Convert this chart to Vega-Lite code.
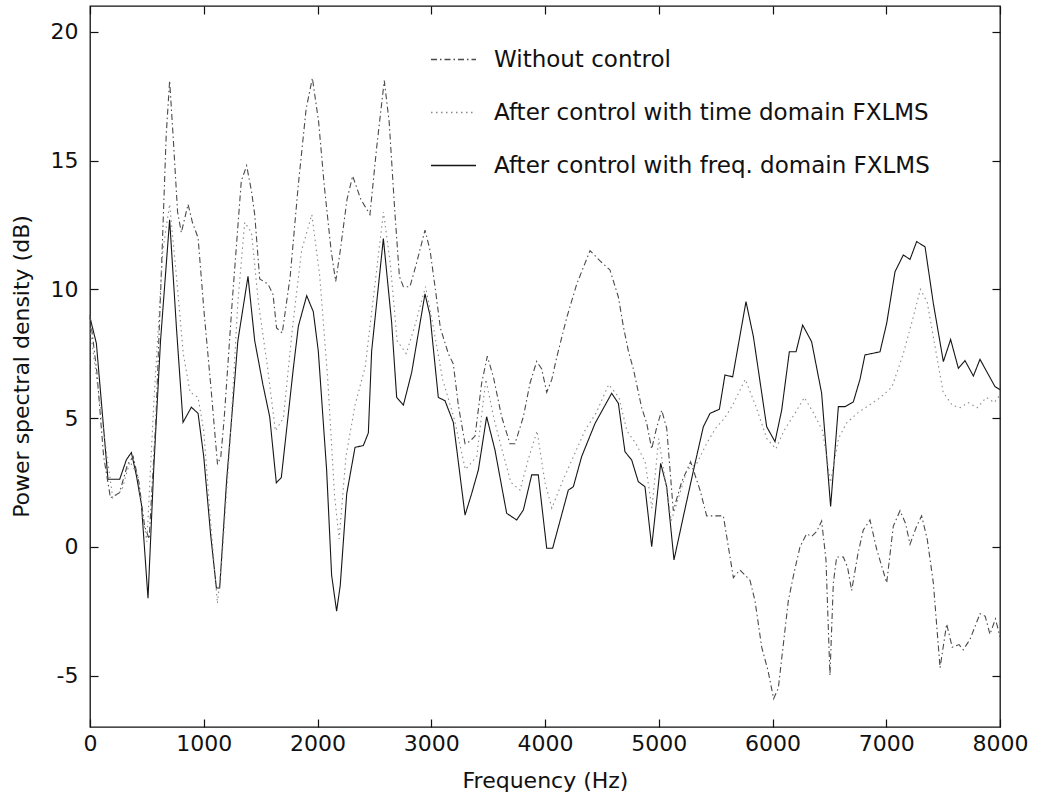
{
  "$schema": "https://vega.github.io/schema/vega-lite/v6.json",
  "width": 910,
  "height": 721,
  "autosize": {"type": "none"},
  "padding": {"left": 90, "top": 6, "right": 38, "bottom": 77},
  "background": "white",
  "config": {
    "view": {"stroke": "#111", "strokeWidth": 1.3},
    "axis": {
      "domain": false,
      "grid": false,
      "tickSize": -8,
      "tickColor": "#111",
      "tickWidth": 1.2,
      "labelFlush": false,
      "labelOverlap": false,
      "labelFont": "DejaVu Sans",
      "labelFontSize": 22,
      "labelColor": "#111",
      "titleFont": "DejaVu Sans",
      "titleFontSize": 22,
      "titleFontWeight": "normal",
      "titleColor": "#111"
    }
  },
  "datasets": {
    "psd": [
      {"s":"C","f":0,"v":8.9},{"s":"C","f":56,"v":7.9},{"s":"C","f":158,"v":2.62},{"s":"C","f":261,"v":2.62},{"s":"C","f":320,"v":3.38},{"s":"C","f":364,"v":3.66},{"s":"C","f":408,"v":2.76},{"s":"C","f":452,"v":1.65},{"s":"C","f":510,"v":-2.0},{"s":"C","f":560,"v":3},{"s":"C","f":620,"v":8},{"s":"C","f":700,"v":12.7},{"s":"C","f":760,"v":8.5},{"s":"C","f":818,"v":4.83},{"s":"C","f":891,"v":5.42},{"s":"C","f":950,"v":5.18},{"s":"C","f":1000,"v":3.5},{"s":"C","f":1060,"v":0.5},{"s":"C","f":1111,"v":-1.6},{"s":"C","f":1140,"v":-1.6},{"s":"C","f":1200,"v":2.5},{"s":"C","f":1300,"v":8},{"s":"C","f":1389,"v":10.5},{"s":"C","f":1448,"v":8.0},{"s":"C","f":1520,"v":6.3},{"s":"C","f":1580,"v":5.04},{"s":"C","f":1638,"v":2.48},{"s":"C","f":1682,"v":2.69},{"s":"C","f":1787,"v":6.91},{"s":"C","f":1832,"v":8.57},{"s":"C","f":1905,"v":9.75},{"s":"C","f":1963,"v":9.13},{"s":"C","f":2007,"v":7.6},{"s":"C","f":2080,"v":3},{"s":"C","f":2124,"v":-1.1},{"s":"C","f":2168,"v":-2.5},{"s":"C","f":2200,"v":-1.5},{"s":"C","f":2257,"v":2.06},{"s":"C","f":2330,"v":3.86},{"s":"C","f":2403,"v":3.93},{"s":"C","f":2447,"v":4.42},{"s":"C","f":2476,"v":7.6},{"s":"C","f":2579,"v":11.97},{"s":"C","f":2652,"v":8.7},{"s":"C","f":2696,"v":5.8},{"s":"C","f":2755,"v":5.5},{"s":"C","f":2828,"v":6.77},{"s":"C","f":2945,"v":9.82},{"s":"C","f":2989,"v":8.99},{"s":"C","f":3062,"v":5.8},{"s":"C","f":3121,"v":5.67},{"s":"C","f":3194,"v":4.83},{"s":"C","f":3297,"v":1.23},{"s":"C","f":3355,"v":2.06},{"s":"C","f":3414,"v":2.98},{"s":"C","f":3487,"v":5.05},{"s":"C","f":3560,"v":3.76},{"s":"C","f":3663,"v":1.3},{"s":"C","f":3751,"v":1.04},{"s":"C","f":3810,"v":1.43},{"s":"C","f":3883,"v":2.79},{"s":"C","f":3941,"v":2.79},{"s":"C","f":4015,"v":-0.06},{"s":"C","f":4067,"v":-0.06},{"s":"C","f":4205,"v":2.2},{"s":"C","f":4249,"v":2.33},{"s":"C","f":4322,"v":3.5},{"s":"C","f":4440,"v":4.79},{"s":"C","f":4586,"v":5.96},{"s":"C","f":4645,"v":5.57},{"s":"C","f":4703,"v":3.69},{"s":"C","f":4762,"v":3.37},{"s":"C","f":4820,"v":2.53},{"s":"C","f":4879,"v":2.33},{"s":"C","f":4938,"v":0.0},{"s":"C","f":5017,"v":3.24},{"s":"C","f":5070,"v":2.33},{"s":"C","f":5134,"v":-0.51},{"s":"C","f":5216,"v":1.17},{"s":"C","f":5319,"v":3.24},{"s":"C","f":5392,"v":4.66},{"s":"C","f":5451,"v":5.18},{"s":"C","f":5533,"v":5.34},{"s":"C","f":5582,"v":6.67},{"s":"C","f":5650,"v":6.6},{"s":"C","f":5767,"v":9.52},{"s":"C","f":5832,"v":8.16},{"s":"C","f":5949,"v":4.66},{"s":"C","f":6022,"v":4.08},{"s":"C","f":6081,"v":5.31},{"s":"C","f":6148,"v":7.57},{"s":"C","f":6207,"v":7.57},{"s":"C","f":6265,"v":8.61},{"s":"C","f":6344,"v":7.96},{"s":"C","f":6432,"v":5.96},{"s":"C","f":6511,"v":1.56},{"s":"C","f":6579,"v":5.44},{"s":"C","f":6637,"v":5.44},{"s":"C","f":6711,"v":5.63},{"s":"C","f":6769,"v":6.5},{"s":"C","f":6813,"v":7.45},{"s":"C","f":6945,"v":7.57},{"s":"C","f":7004,"v":8.68},{"s":"C","f":7077,"v":10.68},{"s":"C","f":7150,"v":11.33},{"s":"C","f":7209,"v":11.16},{"s":"C","f":7267,"v":11.85},{"s":"C","f":7341,"v":11.65},{"s":"C","f":7414,"v":9.45},{"s":"C","f":7502,"v":7.19},{"s":"C","f":7566,"v":8.05},{"s":"C","f":7634,"v":6.93},{"s":"C","f":7692,"v":7.23},{"s":"C","f":7766,"v":6.63},{"s":"C","f":7824,"v":7.28},{"s":"C","f":7956,"v":6.22},{"s":"C","f":8000,"v":6.1},
      {"s":"A","f":0,"v":9.0},{"s":"A","f":60,"v":6.8},{"s":"A","f":120,"v":3.5},{"s":"A","f":180,"v":1.9},{"s":"A","f":260,"v":2.1},{"s":"A","f":330,"v":3.2},{"s":"A","f":380,"v":3.5},{"s":"A","f":430,"v":2.5},{"s":"A","f":480,"v":0.8},{"s":"A","f":520,"v":0.3},{"s":"A","f":580,"v":5},{"s":"A","f":630,"v":11},{"s":"A","f":670,"v":16},{"s":"A","f":700,"v":18.1},{"s":"A","f":730,"v":16},{"s":"A","f":770,"v":13},{"s":"A","f":803,"v":12.2},{"s":"A","f":862,"v":13.3},{"s":"A","f":900,"v":12.6},{"s":"A","f":950,"v":12.0},{"s":"A","f":1005,"v":9.0},{"s":"A","f":1063,"v":6.2},{"s":"A","f":1121,"v":3.2},{"s":"A","f":1150,"v":3.5},{"s":"A","f":1180,"v":5},{"s":"A","f":1250,"v":9.5},{"s":"A","f":1330,"v":14.2},{"s":"A","f":1377,"v":14.8},{"s":"A","f":1420,"v":13.8},{"s":"A","f":1448,"v":12.9},{"s":"A","f":1492,"v":10.4},{"s":"A","f":1565,"v":10.2},{"s":"A","f":1609,"v":9.8},{"s":"A","f":1640,"v":8.5},{"s":"A","f":1690,"v":8.3},{"s":"A","f":1760,"v":10.5},{"s":"A","f":1830,"v":14},{"s":"A","f":1900,"v":17},{"s":"A","f":1955,"v":18.2},{"s":"A","f":2010,"v":16.5},{"s":"A","f":2060,"v":14},{"s":"A","f":2120,"v":11.5},{"s":"A","f":2160,"v":10.3},{"s":"A","f":2200,"v":11.5},{"s":"A","f":2260,"v":13.5},{"s":"A","f":2309,"v":14.4},{"s":"A","f":2380,"v":13.5},{"s":"A","f":2420,"v":13.2},{"s":"A","f":2461,"v":12.9},{"s":"A","f":2520,"v":15.5},{"s":"A","f":2587,"v":18.1},{"s":"A","f":2630,"v":16.5},{"s":"A","f":2680,"v":13},{"s":"A","f":2720,"v":10.5},{"s":"A","f":2755,"v":10.1},{"s":"A","f":2813,"v":10.1},{"s":"A","f":2870,"v":11},{"s":"A","f":2945,"v":12.3},{"s":"A","f":2990,"v":11.5},{"s":"A","f":3033,"v":10.1},{"s":"A","f":3080,"v":8.5},{"s":"A","f":3150,"v":7.5},{"s":"A","f":3194,"v":7.1},{"s":"A","f":3238,"v":5.5},{"s":"A","f":3297,"v":4.0},{"s":"A","f":3340,"v":4.1},{"s":"A","f":3385,"v":4.3},{"s":"A","f":3443,"v":6.35},{"s":"A","f":3493,"v":7.4},{"s":"A","f":3546,"v":6.6},{"s":"A","f":3619,"v":5.05},{"s":"A","f":3692,"v":4.0},{"s":"A","f":3736,"v":4.0},{"s":"A","f":3810,"v":5.05},{"s":"A","f":3868,"v":6.35},{"s":"A","f":3927,"v":7.2},{"s":"A","f":3971,"v":6.9},{"s":"A","f":4015,"v":6.0},{"s":"A","f":4060,"v":6.5},{"s":"A","f":4100,"v":7.3},{"s":"A","f":4191,"v":8.9},{"s":"A","f":4279,"v":10.2},{"s":"A","f":4396,"v":11.5},{"s":"A","f":4484,"v":11.1},{"s":"A","f":4571,"v":10.75},{"s":"A","f":4645,"v":9.7},{"s":"A","f":4689,"v":8.55},{"s":"A","f":4733,"v":7.6},{"s":"A","f":4777,"v":6.9},{"s":"A","f":4850,"v":5.4},{"s":"A","f":4894,"v":4.8},{"s":"A","f":4938,"v":3.8},{"s":"A","f":4980,"v":4.6},{"s":"A","f":5026,"v":5.3},{"s":"A","f":5070,"v":4.6},{"s":"A","f":5128,"v":1.4},{"s":"A","f":5200,"v":2.5},{"s":"A","f":5280,"v":3.3},{"s":"A","f":5363,"v":2.2},{"s":"A","f":5421,"v":1.2},{"s":"A","f":5500,"v":1.2},{"s":"A","f":5568,"v":1.2},{"s":"A","f":5656,"v":-1.2},{"s":"A","f":5714,"v":-0.9},{"s":"A","f":5802,"v":-1.3},{"s":"A","f":5846,"v":-2.1},{"s":"A","f":5905,"v":-3.9},{"s":"A","f":5960,"v":-4.8},{"s":"A","f":6010,"v":-5.9},{"s":"A","f":6051,"v":-5.5},{"s":"A","f":6095,"v":-3.8},{"s":"A","f":6139,"v":-2.1},{"s":"A","f":6190,"v":-1.0},{"s":"A","f":6242,"v":0.0},{"s":"A","f":6300,"v":0.5},{"s":"A","f":6344,"v":0.4},{"s":"A","f":6390,"v":0.6},{"s":"A","f":6432,"v":1.0},{"s":"A","f":6470,"v":-0.5},{"s":"A","f":6505,"v":-5.0},{"s":"A","f":6535,"v":-1.4},{"s":"A","f":6564,"v":-0.4},{"s":"A","f":6623,"v":-0.4},{"s":"A","f":6660,"v":-0.8},{"s":"A","f":6696,"v":-1.7},{"s":"A","f":6750,"v":-0.3},{"s":"A","f":6798,"v":0.65},{"s":"A","f":6857,"v":1.04},{"s":"A","f":6916,"v":-0.1},{"s":"A","f":7004,"v":-1.4},{"s":"A","f":7062,"v":0.8},{"s":"A","f":7121,"v":1.4},{"s":"A","f":7170,"v":0.9},{"s":"A","f":7209,"v":0.1},{"s":"A","f":7267,"v":0.8},{"s":"A","f":7311,"v":1.2},{"s":"A","f":7360,"v":0.3},{"s":"A","f":7414,"v":-1.4},{"s":"A","f":7473,"v":-4.7},{"s":"A","f":7531,"v":-3.0},{"s":"A","f":7580,"v":-3.9},{"s":"A","f":7640,"v":-3.8},{"s":"A","f":7677,"v":-4.0},{"s":"A","f":7736,"v":-3.6},{"s":"A","f":7824,"v":-2.6},{"s":"A","f":7870,"v":-2.7},{"s":"A","f":7912,"v":-3.4},{"s":"A","f":7960,"v":-2.8},{"s":"A","f":8000,"v":-3.5},
      {"s":"B","f":0,"v":8.5},{"s":"B","f":60,"v":6.5},{"s":"B","f":150,"v":3.5},{"s":"B","f":200,"v":1.9},{"s":"B","f":280,"v":2.2},{"s":"B","f":350,"v":3.3},{"s":"B","f":420,"v":2.8},{"s":"B","f":470,"v":1.0},{"s":"B","f":500,"v":0.2},{"s":"B","f":560,"v":5.5},{"s":"B","f":640,"v":11.5},{"s":"B","f":700,"v":13.3},{"s":"B","f":760,"v":10.5},{"s":"B","f":820,"v":7.5},{"s":"B","f":880,"v":6},{"s":"B","f":950,"v":5.8},{"s":"B","f":1000,"v":4.5},{"s":"B","f":1060,"v":1.0},{"s":"B","f":1120,"v":-2.2},{"s":"B","f":1160,"v":-0.5},{"s":"B","f":1230,"v":4},{"s":"B","f":1300,"v":9.5},{"s":"B","f":1360,"v":12.6},{"s":"B","f":1420,"v":12.2},{"s":"B","f":1480,"v":9.5},{"s":"B","f":1560,"v":7},{"s":"B","f":1630,"v":4.5},{"s":"B","f":1700,"v":5},{"s":"B","f":1780,"v":8.5},{"s":"B","f":1860,"v":11.5},{"s":"B","f":1950,"v":12.9},{"s":"B","f":2020,"v":10.5},{"s":"B","f":2090,"v":6.5},{"s":"B","f":2150,"v":2},{"s":"B","f":2190,"v":0.3},{"s":"B","f":2250,"v":3.5},{"s":"B","f":2330,"v":5.5},{"s":"B","f":2420,"v":7},{"s":"B","f":2500,"v":10},{"s":"B","f":2580,"v":13},{"s":"B","f":2640,"v":11},{"s":"B","f":2700,"v":8},{"s":"B","f":2780,"v":7.5},{"s":"B","f":2850,"v":8.5},{"s":"B","f":2950,"v":10.1},{"s":"B","f":3020,"v":8.5},{"s":"B","f":3100,"v":6.5},{"s":"B","f":3200,"v":5},{"s":"B","f":3300,"v":3},{"s":"B","f":3400,"v":3.5},{"s":"B","f":3480,"v":6.5},{"s":"B","f":3550,"v":5},{"s":"B","f":3620,"v":3.8},{"s":"B","f":3700,"v":2.5},{"s":"B","f":3780,"v":2.2},{"s":"B","f":3860,"v":3.5},{"s":"B","f":3930,"v":4.5},{"s":"B","f":4000,"v":2.5},{"s":"B","f":4060,"v":1.5},{"s":"B","f":4150,"v":2.5},{"s":"B","f":4250,"v":3.5},{"s":"B","f":4350,"v":4.5},{"s":"B","f":4450,"v":5.2},{"s":"B","f":4560,"v":6.3},{"s":"B","f":4650,"v":5.8},{"s":"B","f":4720,"v":4.5},{"s":"B","f":4800,"v":4},{"s":"B","f":4880,"v":3.3},{"s":"B","f":4940,"v":1.5},{"s":"B","f":5000,"v":4.2},{"s":"B","f":5060,"v":2.5},{"s":"B","f":5110,"v":1.0},{"s":"B","f":5180,"v":2.0},{"s":"B","f":5250,"v":3.0},{"s":"B","f":5330,"v":3.2},{"s":"B","f":5420,"v":4},{"s":"B","f":5500,"v":4.6},{"s":"B","f":5580,"v":5},{"s":"B","f":5650,"v":5.5},{"s":"B","f":5760,"v":6.5},{"s":"B","f":5850,"v":5.5},{"s":"B","f":5950,"v":4.2},{"s":"B","f":6030,"v":3.8},{"s":"B","f":6100,"v":4.5},{"s":"B","f":6200,"v":5.2},{"s":"B","f":6280,"v":5.8},{"s":"B","f":6360,"v":5.2},{"s":"B","f":6440,"v":4.5},{"s":"B","f":6510,"v":2.5},{"s":"B","f":6580,"v":4.2},{"s":"B","f":6650,"v":4.8},{"s":"B","f":6750,"v":5.2},{"s":"B","f":6850,"v":5.5},{"s":"B","f":6950,"v":5.8},{"s":"B","f":7050,"v":6.2},{"s":"B","f":7150,"v":7.5},{"s":"B","f":7230,"v":8.8},{"s":"B","f":7300,"v":10},{"s":"B","f":7360,"v":9.5},{"s":"B","f":7420,"v":8},{"s":"B","f":7500,"v":6},{"s":"B","f":7580,"v":5.5},{"s":"B","f":7650,"v":5.4},{"s":"B","f":7720,"v":5.6},{"s":"B","f":7800,"v":5.4},{"s":"B","f":7880,"v":5.8},{"s":"B","f":7950,"v":5.6},{"s":"B","f":8000,"v":5.9}
    ]
  },
  "data": {"name": "psd"},
  "layer": [
    {
      "mark": {"type": "line", "strokeWidth": 1.1},
      "encoding": {
        "x": {
          "field": "f", "type": "quantitative",
          "scale": {"domain": [0, 8000], "nice": false, "zero": false},
          "axis": {"orient": "bottom", "values": [0,1000,2000,3000,4000,5000,6000,7000,8000], "labelExpr": "'' + datum.value", "title": "Frequency (Hz)", "labelPadding": 14, "titleY": 53, "titleBaseline": "middle", "titleX": 455, "titleAlign": "center"}
        },
        "y": {
          "field": "v", "type": "quantitative",
          "scale": {"domain": [-7, 21], "nice": false, "zero": false},
          "axis": {"orient": "left", "values": [-5,0,5,10,15,20], "labelExpr": "'' + datum.value", "title": "Power spectral density (dB)", "labelPadding": 20, "titleX": -69, "titleY": 360, "titleBaseline": "middle", "titleAlign": "center", "titleAngle": -90}
        },
        "color": {
          "field": "s", "type": "nominal",
          "scale": {"domain": ["A", "B", "C"], "range": ["#4a4a4a", "#8a8a8a", "#151515"]},
          "legend": {
            "orient": "none", "legendX": 340, "legendY": 30, "title": null,
            "symbolType": "stroke", "symbolSize": 2025, "symbolStrokeWidth": 1.3,
            "labelFont": "DejaVu Sans", "labelFontSize": 23, "labelColor": "#111",
            "labelOffset": 17, "rowPadding": 17, "padding": 0, "labelLimit": 700,
            "labelExpr": "datum.label == 'A' ? 'Without control' : datum.label == 'B' ? 'After control with time domain FXLMS' : 'After control with freq. domain FXLMS'"
          }
        },
        "strokeDash": {
          "field": "s", "type": "nominal",
          "scale": {"domain": ["A", "B", "C"], "range": [[6, 3, 1.5, 3], [1.5, 3.5], [1, 0]]},
          "legend": {
            "orient": "none", "legendX": 340, "legendY": 30, "title": null,
            "symbolType": "stroke", "symbolSize": 2025, "symbolStrokeWidth": 1.3,
            "labelFont": "DejaVu Sans", "labelFontSize": 23, "labelColor": "#111",
            "labelOffset": 17, "rowPadding": 17, "padding": 0, "labelLimit": 700,
            "labelExpr": "datum.label == 'A' ? 'Without control' : datum.label == 'B' ? 'After control with time domain FXLMS' : 'After control with freq. domain FXLMS'"
          }
        }
      }
    },
    {
      "mark": {"type": "line", "opacity": 0},
      "encoding": {
        "x": {
          "field": "f", "type": "quantitative",
          "axis": {"orient": "top", "values": [0,1000,2000,3000,4000,5000,6000,7000,8000], "labels": false, "title": null}
        },
        "y": {
          "field": "v", "type": "quantitative",
          "axis": {"orient": "right", "values": [-5,0,5,10,15,20], "labels": false, "title": null}
        },
        "detail": {"field": "s"}
      }
    }
  ],
  "resolve": {"axis": {"x": "independent", "y": "independent"}}
}
